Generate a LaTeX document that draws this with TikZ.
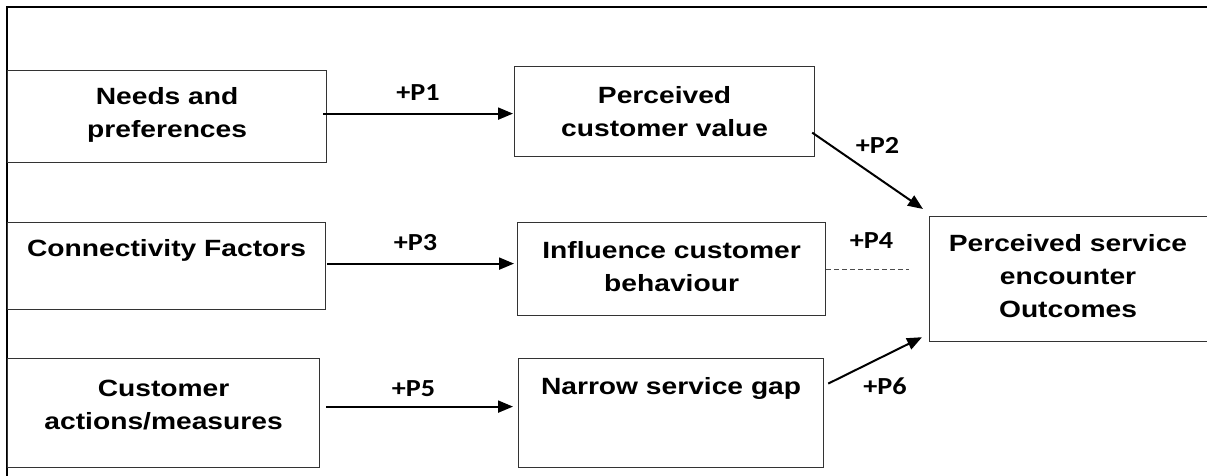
\documentclass[tikz,border=0pt]{standalone}
\usepackage{fontspec}
\usetikzlibrary{arrows.meta,calc}
\newfontfamily\ArialB{Liberation Sans}[FakeStretch=1.2]
\newfontfamily\CalibriB{Carlito}[FakeStretch=1.15]
\begin{document}
\begin{tikzpicture}[x=1pt,y=-1pt,
  box/.style={draw=black!80, line width=1.2pt, inner sep=0pt, anchor=north west},
  boxtext/.style={font=\ArialB\bfseries\fontsize{23.5}{33}\selectfont, align=center, inner sep=0pt},
  plabel/.style={font=\CalibriB\bfseries\fontsize{24.5}{27}\selectfont, inner sep=0pt},
  arr/.style={line width=2pt, -{Triangle[length=15pt,width=12pt]}},
  link/.style={line width=0.9pt, draw=black!70, dash pattern=on 5pt off 3pt}]
\useasboundingbox (0,0) rectangle (1207,475);
% outer frame (right and bottom sides run past the page)
\draw[line width=2.5pt] (7,490) -- (7,7) -- (1220,7);

% boxes
\node[box, minimum width=319pt, minimum height=92pt]  (needs)  at (7,70)    {};
\node[box, minimum width=300pt, minimum height=90pt]  (pcv)    at (514,66)  {};
\node[box, minimum width=318pt, minimum height=87pt]  (conn)   at (7,222)   {};
\node[box, minimum width=308pt, minimum height=93pt]  (infl)   at (517,222) {};
\node[box, minimum width=312pt, minimum height=109pt] (cust)   at (7,358)   {};
\node[box, minimum width=305pt, minimum height=109pt] (narrow) at (518,358) {};
\node[box, minimum width=290pt, minimum height=125pt] (pseo)   at (929,216) {};

% box texts
\node[boxtext] (needsT)  at ($(needs.center)+(0,-2)$) {Needs and\\preferences};
\node[boxtext] (pcvT)    at (pcv.center) {Perceived\\customer value};
\node[boxtext] (connT)   at ($(conn.north)+(0,28)$) {Connectivity Factors};
\node[boxtext] (inflT)   at ($(infl.north)+(0,44.5)$) {Influence customer\\behaviour};
\node[boxtext] (custT)   at ($(cust.north)+(0,47)$) {Customer\\actions/measures};
\node[boxtext] (narrowT) at ($(narrow.north)+(0,30)$) {Narrow service gap};
\node[boxtext] (pseoT)   at ($(pseo.west)+(139,-3.5)$) {Perceived service\\encounter\\Outcomes};

% connectors
\draw[arr] ($(needs.east)+(-4,-3)$) -- ($(pcv.west)+(-1,2)$)
  node[plabel, midway, yshift=21pt] (p1) {+P1};
\draw[arr] ($(pcv.east)+(-3,21)$) -- ($(pseo.north west)+(-6,-7)$)
  node[plabel, midway, xshift=10pt, yshift=25.5pt] (p2) {+P2};
\draw[arr] ($(conn.east)+(1,-2.5)$) -- ($(infl.west)+(-3,-5.5)$)
  node[plabel, midway, xshift=-5pt, yshift=21pt] (p3) {+P3};
\draw[link] ($(infl.east)+(0,0.5)$) -- ($(pseo.west)+(-20,-9.5)$)
  node[plabel, midway, xshift=4pt, yshift=29pt] (p4) {+P4};
\draw[arr] ($(cust.east)+(6,-6.5)$) -- ($(narrow.west)+(-5,-6.5)$)
  node[plabel, midway, xshift=-6pt, yshift=18pt] (p5) {+P5};
\draw[arr] ($(narrow.east)+(4,-29.5)$) -- ($(pseo.south west)+(-7,-5)$)
  node[plabel, midway, xshift=10pt, yshift=-25.5pt] (p6) {+P6};
\end{tikzpicture}
\end{document}
